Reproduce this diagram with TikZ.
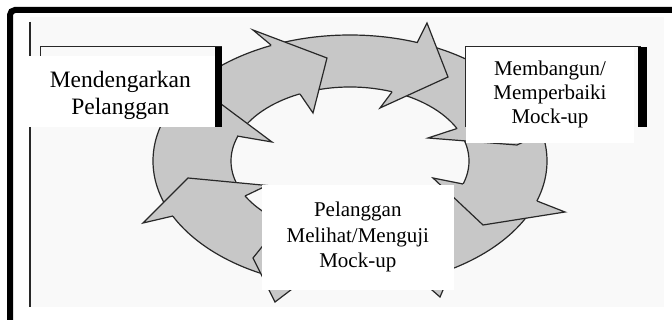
\documentclass[tikz,border=0pt]{standalone}
\usepackage{fontspec}
\setmainfont{Liberation Serif}
\definecolor{ringgray}{RGB}{199,199,199}
\definecolor{edgecol}{RGB}{40,40,40}
\definecolor{panelbg}{RGB}{249,249,249}
\newcommand{\ringhead}[5]{%
  \fill[ringgray] #1 -- #2 -- #3 -- #4 -- #5 -- cycle;
  \draw[outl] #1 -- #2 -- #3 -- #4 -- #5;}
\begin{document}
\begin{tikzpicture}[x=1pt,y=-1pt,
  outl/.style={draw=edgecol, line width=1.2pt, line join=miter, miter limit=20},
  lbl/.style={anchor=base, inner sep=0pt, text=black},
  bigfont/.style={font=\fontsize{23.5}{28}\selectfont},
  smallfont/.style={font=\fontsize{21}{24}\selectfont}]
\useasboundingbox (0,0) rectangle (672,320);
% outer frame and panel
\fill[white] (0,0) rectangle (672,320);
\fill[panelbg] (30,17) rectangle (664,307);
\draw[line width=6pt, rounded corners=5pt] (10,330) -- (10,10) -- (690,10);
\draw[edgecol, line width=1.2pt] (30,22) -- (30,307);
% ring
\fill[ringgray, even odd rule] (350,161) ellipse [x radius=197, y radius=126]
  (350,161) ellipse [x radius=119, y radius=74];
\draw[outl] (350,161) ellipse [x radius=197, y radius=126];
\draw[outl] (350,161) ellipse [x radius=119, y radius=74];
% arrow heads (outer base, outer barb, tip, inner barb, inner base)
\ringhead{(271,45)}{(253,30)}{(327,58)}{(313,113)}{(300,94)}   % A
\ringhead{(417,43)}{(427,23)}{(448,77)}{(380,108)}{(392,92)}   % B
\ringhead{(531,112)}{(575,118)}{(517,145)}{(428,138)}{(457,128.5)} % D
\ringhead{(537,201)}{(565,212)}{(483,225)}{(433,178)}{(463,184)}   % E
\ringhead{(452,269)}{(440,297)}{(400,262)}{(365,215)}{(395,229)}   % H
\ringhead{(300,283)}{(275,302)}{(253,258)}{(290,212)}{(305,229)}   % G
\ringhead{(173,216)}{(143,223)}{(188,178)}{(267,185.5)}{(245,196)} % F
\ringhead{(164,120)}{(140,105)}{(205,92)}{(272,142)}{(237,136)}    % C
% left box
\draw[edgecol, line width=1pt] (40,57) -- (40,47) -- (222,47);
\fill[black] (215,47) rectangle (222,127);
\fill[white] (28,56) rectangle (215,127);
\node[lbl, bigfont] (l1) at (120.3,87.3) {Mendengarkan};
\node[lbl, bigfont] (l2) at (120.3,115) {Pelanggan};
% right box
\draw[edgecol, line width=1pt] (465,127) -- (465,47) -- (641,47);
\fill[black] (638,47) rectangle (647,127);
\fill[white] (465.5,47.5) rectangle (634,143);
\node[lbl, smallfont] (r1) at (550,76) {Membangun/};
\node[lbl, smallfont] (r2) at (550,100) {Memperbaiki};
\node[lbl, smallfont] (r3) at (550,124) {Mock-up};
% bottom box
\fill[white] (262,185) rectangle (454,290);
\node[lbl, smallfont] (b1) at (357.8,216.5) {Pelanggan};
\node[lbl, smallfont] (b2) at (357.8,243) {Melihat/Menguji};
\node[lbl, smallfont] (b3) at (357.8,268) {Mock-up};
\end{tikzpicture}
\end{document}
